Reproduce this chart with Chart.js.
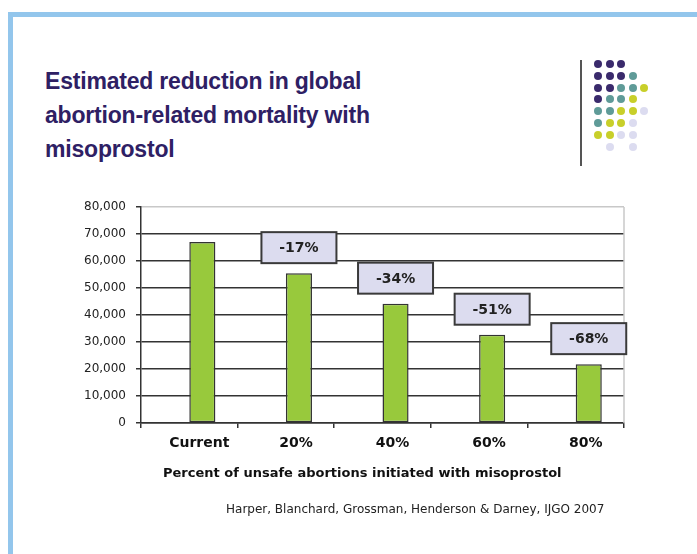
<!DOCTYPE html>
<html>
<head>
<meta charset="utf-8">
<script src="https://cdn.jsdelivr.net/npm/chart.js@4"></script>
<style>
  html, body { margin: 0; padding: 0; background: #fff; }
  body { width: 697px; height: 554px; position: relative; overflow: hidden; }
  .frame-top { position: absolute; left: 8px; top: 12px; width: 689px; height: 5px; background: #93c6ec; }
  .frame-left { position: absolute; left: 8px; top: 12px; width: 5px; height: 542px; background: #93c6ec; }
  #title {
    position: absolute; left: 45px; top: 64px;
    font: bold 23px 'Liberation Sans', Arial, sans-serif; line-height: 34px;
    color: #2e2064; letter-spacing: -0.2px;
  }
  .logo-bar { position: absolute; left: 580px; top: 60px; width: 2px; height: 106px; background: #555; }
  .dot { position: absolute; width: 8px; height: 8px; border-radius: 50%; }
  #xtitle {
    position: absolute; left: 163px; top: 465px;
    font: bold 13px 'DejaVu Sans', Verdana, sans-serif; color: #111; white-space: nowrap;
  }
  #cite {
    position: absolute; left: 226px; top: 502px;
    font: 12px 'DejaVu Sans', Verdana, sans-serif; color: #222; white-space: nowrap;
  }
  canvas { position: absolute; left: 0; top: 0; }
</style>
</head>
<body>
<div class="frame-top"></div>
<div class="frame-left"></div>
<div id="title">Estimated reduction in global<br>abortion-related mortality with<br>misoprostol</div>
<div class="logo-bar"></div>
<div id="logo"></div>
<canvas id="chart" width="697" height="554"></canvas>
<div id="xtitle">Percent of unsafe abortions initiated with misoprostol</div>
<div id="cite">Harper, Blanchard, Grossman, Henderson &amp; Darney, IJGO 2007</div>

<script>
// ── Data ──────────────────────────────────────────────────────────────────────
const categories = ['Current', '20%', '40%', '60%', '80%'];
const deaths = [67000, 55500, 44200, 32700, 21800];
const reductionLabels = ['', '-17%', '-34%', '-51%', '-68%'];
const yTicks = [0, 10000, 20000, 30000, 40000, 50000, 60000, 70000, 80000];

// ── Decorative dot logo ───────────────────────────────────────────────────────
const DOT_COLORS = { P: '#3a2a6c', T: '#5f9b98', Y: '#c8cf2a', L: '#dcdcf0' };
const dotRows = ['PPP..', 'PPPT.', 'PPTTY', 'PTTY.', 'TTYYL', 'TYYL.', 'YYLL.', '.L.L.'];
const logo = document.getElementById('logo');
dotRows.forEach((row, r) => {
  [...row].forEach((c, i) => {
    if (c === '.') return;
    const d = document.createElement('div');
    d.className = 'dot';
    d.style.left = (594 + i * 11.5) + 'px';
    d.style.top = (60 + r * 11.8) + 'px';
    d.style.background = DOT_COLORS[c];
    logo.appendChild(d);
  });
});

// ── Reduction label boxes above bars ──────────────────────────────────────────
const boxPlugin = {
  id: 'reductionBoxes',
  afterDatasetsDraw(chart) {
    const { ctx } = chart;
    const meta = chart.getDatasetMeta(1);
    ctx.save();
    meta.data.forEach((bar, i) => {
      const txt = reductionLabels[i];
      if (!txt) return;
      const w = 75, h = 31;
      const x = bar.x - w / 2;
      const y = bar.y - 10 - h;
      ctx.fillStyle = '#dcdcef';
      ctx.fillRect(x, y, w, h);
      ctx.strokeStyle = '#3a3a3a';
      ctx.lineWidth = 2;
      ctx.strokeRect(x, y, w, h);
      ctx.fillStyle = '#222';
      ctx.font = "bold 14px 'DejaVu Sans', Verdana, sans-serif";
      ctx.textAlign = 'center';
      ctx.textBaseline = 'middle';
      ctx.fillText(txt, bar.x, y + h / 2 + 1);
    });
    ctx.restore();
  },
  beforeDatasetsDraw(chart) {
    // light frame on the right side of the plot
    const { ctx, chartArea: a } = chart;
    ctx.save();
    ctx.strokeStyle = '#c8c8c8';
    ctx.lineWidth = 1.5;
    ctx.beginPath();
    ctx.moveTo(a.right, a.top);
    ctx.lineTo(a.right, a.bottom);
    ctx.stroke();
    ctx.restore();
  }
};

new Chart(document.getElementById('chart'), {
  type: 'bar',
  data: {
    labels: categories,
    datasets: [
      { label: 'spacer', data: categories.map(() => null) },
      {
        label: 'Deaths',
        data: deaths,
        backgroundColor: '#98c93c',
        borderColor: '#333',
        borderWidth: 1.5,
        borderSkipped: false,
      },
    ],
  },
  options: {
    responsive: false,
    animation: false,
    devicePixelRatio: 1,
    categoryPercentage: 0.54,
    barPercentage: 1,
    layout: { padding: { left: 0, top: 207, right: 73, bottom: 91 } },
    plugins: { legend: { display: false }, tooltip: { enabled: false } },
    scales: {
      x: {
        afterFit: s => { s.height = 40; },
        grid: {
          offset: true,
          drawOnChartArea: false,
          drawTicks: true,
          tickLength: 5,
          tickColor: '#333',
          lineWidth: 1.5,
        },
        border: { color: '#333', width: 1.5 },
        ticks: {
          color: '#111',
          padding: 7,
          labelOffset: 10,
          font: { family: "'DejaVu Sans', Verdana, sans-serif", size: 14, weight: 'bold' },
        },
      },
      y: {
        min: 0,
        max: 80000,
        afterFit: s => { s.width = 141; },
        afterBuildTicks: s => { s.ticks = yTicks.map(v => ({ value: v })); },
        grid: {
          color: c => (c.tick && c.tick.value === 80000 ? '#c8c8c8' : '#333'),
          tickColor: '#333',
          lineWidth: 1.5,
          tickLength: 5,
        },
        border: { color: '#333', width: 1.5 },
        ticks: {
          color: '#222',
          padding: 10,
          font: { family: "'DejaVu Sans', Verdana, sans-serif", size: 12 },
          callback: v => v.toLocaleString('en-US'),
        },
      },
    },
  },
  plugins: [boxPlugin],
});
</script>
</body>
</html>
